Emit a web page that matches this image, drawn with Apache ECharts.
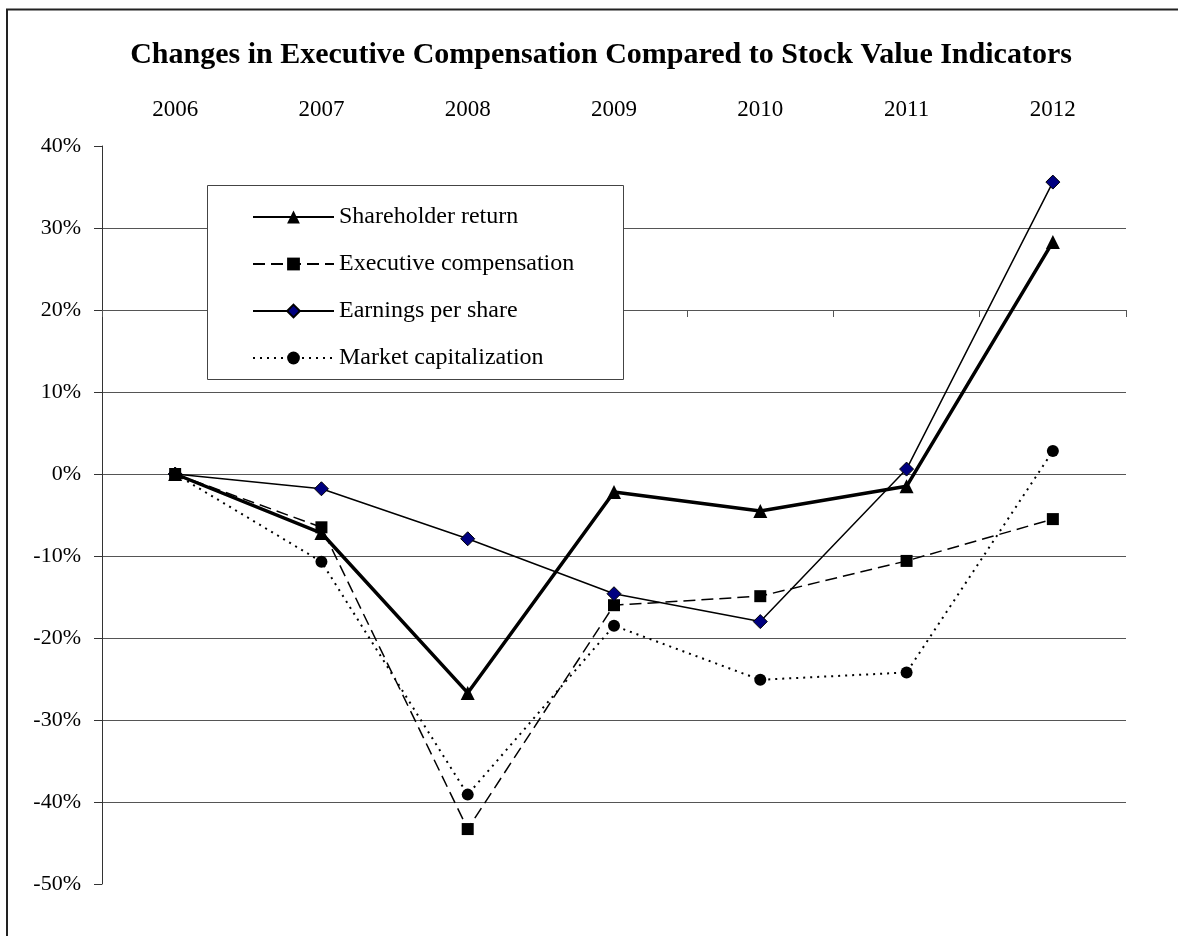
<!DOCTYPE html>
<html lang="en">
<head>
    <meta charset="UTF-8">
    <title>Executive Compensation vs Stock Value Indicators</title>
    <script src="https://cdn.jsdelivr.net/npm/echarts@6.0.0/dist/echarts.min.js"></script>
    <style>
        body, html {
            margin: 0;
            padding: 0;
            width: 100%;
            height: 100%;
            background-color: #fff;
        }
        #chart {
            width: 1178px;
            height: 936px;
        }
    </style>
</head>
<body>
    <div id="chart"></div>

    <script>
        // years shown on the top axis
        var years = ['2006', '2007', '2008', '2009', '2010', '2011', '2012'];

        // percent change per year
        var shareholderReturn = [0, -7.2, -26.7, -2.2, -4.5, -1.5, 28.3];
        var executiveComp = [0, -6.5, -43.3, -16.0, -14.9, -10.6, -5.5];
        var earningsPerShare = [0, -1.8, -7.9, -14.6, -18.0, 0.6, 35.6];
        var marketCap = [0, -10.7, -39.1, -18.5, -25.1, -24.2, 2.8];

        var serif = "'Liberation Serif', 'Times New Roman', serif";

        var chart = echarts.init(document.getElementById('chart'));

        var option = {
            backgroundColor: '#fff',
            animation: false,
            title: {
                text: 'Changes in Executive Compensation Compared to Stock Value Indicators',
                left: 601,
                top: 40,
                padding: 0,
                textAlign: 'center',
                textStyle: {
                    fontFamily: serif,
                    fontSize: 30,
                    fontWeight: 'bold',
                    color: '#000'
                }
            },
            legend: {
                orient: 'vertical',
                left: 252,
                top: 205,
                padding: 0,
                itemWidth: 81,
                itemHeight: 16,
                itemGap: 23,
                textStyle: {
                    fontFamily: serif,
                    fontSize: 24,
                    color: '#000'
                },
                data: ['Shareholder return', 'Executive compensation', 'Earnings per share', 'Market capitalization']
            },
            graphic: [
                {
                    // outer frame
                    type: 'rect',
                    shape: { x: 7, y: 9.5, width: 1200, height: 1000 },
                    style: { fill: 'none', stroke: '#222', lineWidth: 2 },
                    z: 0
                },
                {
                    // legend box
                    type: 'rect',
                    shape: { x: 207.5, y: 185.5, width: 416, height: 194 },
                    style: { fill: '#fff', stroke: '#444', lineWidth: 1 },
                    z: 3
                }
            ],
            grid: {
                left: 102,
                right: 52,
                top: 146,
                bottom: 52
            },
            xAxis: {
                type: 'category',
                data: years,
                position: 'top',
                offset: -164,
                boundaryGap: true,
                axisLine: { show: true, onZero: false, lineStyle: { color: '#555', width: 1 } },
                axisTick: { show: true, inside: true, length: 7, lineStyle: { color: '#555' } },
                axisLabel: {
                    margin: 189,
                    fontFamily: serif,
                    fontSize: 23,
                    color: '#000'
                },
                splitLine: { show: false }
            },
            yAxis: {
                type: 'value',
                min: -50,
                max: 40,
                interval: 10,
                axisLine: { show: true, lineStyle: { color: '#333', width: 1 } },
                axisTick: { show: true, length: 8, lineStyle: { color: '#333' } },
                axisLabel: {
                    formatter: '{value}%',
                    margin: 21,
                    fontFamily: serif,
                    fontSize: 22,
                    color: '#000'
                },
                splitLine: {
                    show: true,
                    showMinLine: false,
                    showMaxLine: false,
                    lineStyle: { color: '#555', width: 1 }
                }
            },
            series: [
                {
                    name: 'Shareholder return',
                    type: 'line',
                    data: shareholderReturn,
                    symbol: 'triangle',
                    symbolSize: 14,
                    itemStyle: { color: '#000' },
                    lineStyle: { color: '#000', width: 3.5 },
                    z: 5
                },
                {
                    name: 'Executive compensation',
                    type: 'line',
                    data: executiveComp,
                    symbol: 'rect',
                    symbolSize: 12,
                    itemStyle: { color: '#000' },
                    lineStyle: { color: '#000', width: 1.5, type: [12, 6] },
                    z: 4
                },
                {
                    name: 'Earnings per share',
                    type: 'line',
                    data: earningsPerShare,
                    symbol: 'diamond',
                    symbolSize: 14,
                    itemStyle: { color: '#000080', borderColor: '#000', borderWidth: 1 },
                    lineStyle: { color: '#000', width: 1.5 },
                    z: 4
                },
                {
                    name: 'Market capitalization',
                    type: 'line',
                    data: marketCap,
                    symbol: 'circle',
                    symbolSize: 12,
                    itemStyle: { color: '#000' },
                    lineStyle: { color: '#000', width: 2, type: [2, 5] },
                    z: 4
                }
            ]
        };

        chart.setOption(option);
    </script>
</body>
</html>
